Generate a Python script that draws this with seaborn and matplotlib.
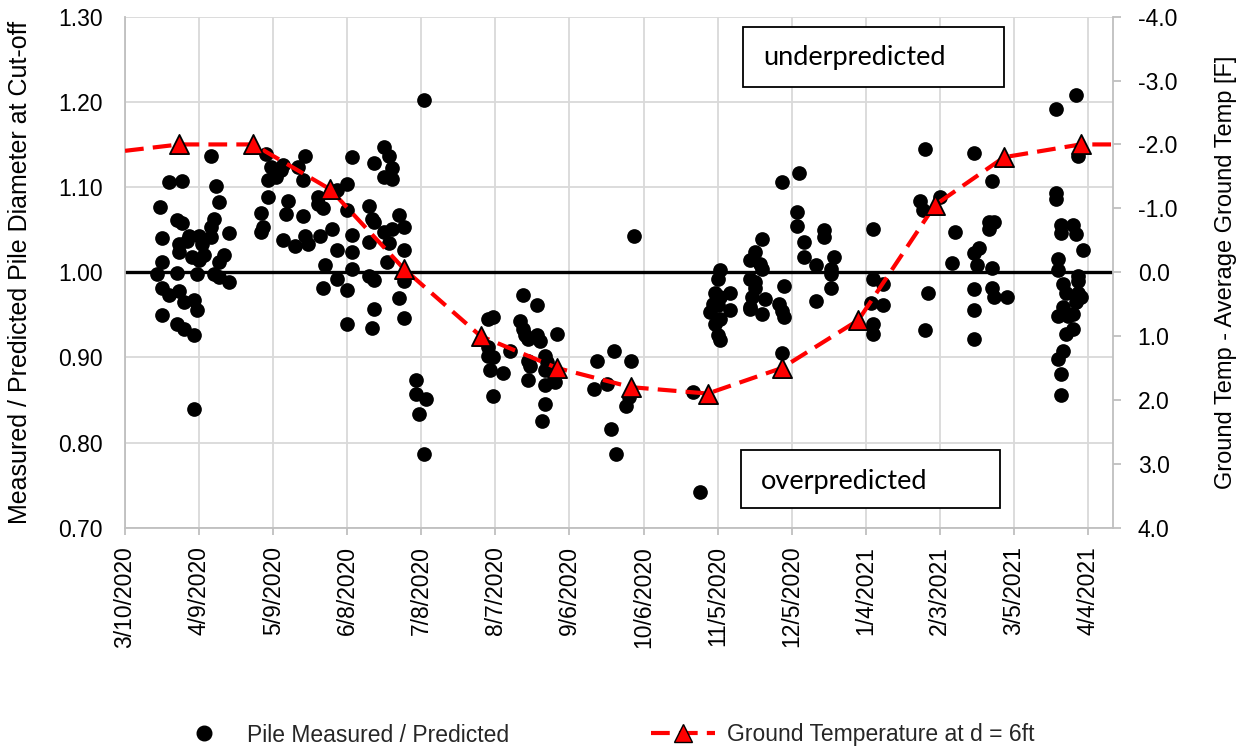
import numpy as np
import pandas as pd
import matplotlib
matplotlib.use("Agg")
import matplotlib.pyplot as plt
import matplotlib.dates as mdates
from matplotlib.lines import Line2D
from matplotlib.patches import Rectangle
import seaborn as sns

sns.set_theme(style="white")
plt.rcParams['font.family'] = ['Liberation Sans', 'DejaVu Sans']

# Axis start date; pile data are stored as days after this date
START = pd.Timestamp("2020-03-10")
END = pd.Timestamp("2021-04-14")

# Pile measured / predicted diameter ratio (day offset from START, ratio)
pile_day = [
    35, 18, 23, 37, 38, 14, 21, 23, 36, 35, 42, 15, 26, 30, 22, 31, 35, 22, 27, 30,
    40, 38, 15, 13, 21, 29, 36, 38, 42, 15, 18, 22, 24, 28, 29, 15, 21, 24, 28, 28,
    25, 32,
    57, 59, 63, 61, 58, 64, 73, 70, 72, 58, 66, 55, 65, 72, 56, 55, 64, 69, 73, 74,
    79, 84, 78, 80, 78, 86, 90, 92, 90, 92, 86, 92, 81, 86, 80, 92, 90, 90,
    121, 105, 107, 108, 105, 108, 101, 99, 100, 101, 99, 105, 108, 111, 113, 107,
    113, 106, 99, 101, 113, 111, 101, 100, 113, 118, 118, 122, 119, 121,
    147, 149, 147, 147, 149, 148, 153, 149, 156, 161, 167, 160, 161, 162, 163, 167,
    168, 175, 163, 164, 170, 171, 170, 163, 170, 174, 170, 169, 191, 198, 205, 190,
    195, 203, 204, 197, 199, 206, 230, 233,
    241, 240, 239, 241, 245, 238, 240, 237, 245, 241, 239, 240, 241, 258, 255, 253,
    257, 258, 253, 255, 255, 254, 259, 253, 253, 258, 267, 265, 266, 267, 266, 266,
    273, 272, 272, 275, 275, 280, 283, 283, 287, 286, 286, 286, 280,
    324, 322, 323, 330, 303, 336, 335, 303, 307, 302, 307, 303, 303, 325, 324,
    344, 351, 350, 352, 350, 346, 344, 345, 351, 344, 351, 352, 357, 344, 344,
    377, 385, 386, 377, 377, 379, 379, 384, 385, 388, 378, 378, 386, 386, 380, 381,
    386, 387, 385, 380, 378, 382, 384, 384, 381, 380, 378, 379, 379,
]
pile_ratio = [
    1.136, 1.106, 1.107, 1.101, 1.082, 1.076, 1.061, 1.058, 1.063, 1.053, 1.046, 1.040,
    1.043, 1.042, 1.033, 1.033, 1.041, 1.024, 1.018, 1.014, 1.020, 1.012, 1.012, 0.998,
    0.999, 0.998, 0.998, 0.994, 0.988, 0.982, 0.973, 0.978, 0.965, 0.967, 0.956, 0.950,
    0.939, 0.933, 0.926, 0.839, 1.037, 1.020,
    1.139, 1.124, 1.120, 1.112, 1.108, 1.126, 1.137, 1.123, 1.108, 1.088, 1.084, 1.069,
    1.068, 1.066, 1.053, 1.047, 1.038, 1.031, 1.043, 1.033, 1.043, 1.051, 1.080, 1.075,
    1.088, 1.097, 1.104, 1.135, 1.073, 1.044, 1.026, 1.024, 1.008, 0.992, 0.982, 1.004,
    0.979, 0.939,
    1.202, 1.147, 1.137, 1.122, 1.112, 1.110, 1.128, 1.078, 1.063, 1.059, 1.035, 1.047,
    1.051, 1.067, 1.053, 1.034, 1.026, 1.012, 0.996, 0.991, 0.990, 0.970, 0.957, 0.935,
    0.946, 0.873, 0.857, 0.851, 0.834, 0.786,
    0.945, 0.947, 0.912, 0.902, 0.900, 0.885, 0.882, 0.855, 0.908, 0.973, 0.961, 0.943,
    0.933, 0.926, 0.922, 0.926, 0.919, 0.927, 0.896, 0.890, 0.902, 0.894, 0.885, 0.873,
    0.868, 0.871, 0.845, 0.825, 0.896, 0.908, 0.896, 0.863, 0.869, 0.843, 0.853, 0.816,
    0.786, 1.042, 0.859, 0.742,
    1.002, 0.992, 0.975, 0.971, 0.975, 0.963, 0.961, 0.953, 0.956, 0.945, 0.939, 0.926,
    0.920, 1.039, 1.024, 1.014, 1.010, 1.004, 0.992, 0.988, 0.982, 0.971, 0.969, 0.959,
    0.957, 0.951, 0.984, 0.963, 0.955, 0.947, 0.905, 1.106, 1.116, 1.071, 1.054, 1.036,
    1.018, 1.009, 1.049, 1.041, 1.018, 1.004, 0.998, 0.982, 0.966,
    1.145, 1.084, 1.073, 1.088, 1.051, 1.047, 1.011, 0.992, 0.986, 0.964, 0.962, 0.939,
    0.928, 0.976, 0.932,
    1.140, 1.107, 1.059, 1.059, 1.051, 1.028, 1.022, 1.008, 1.005, 0.980, 0.982, 0.971,
    0.971, 0.956, 0.922,
    1.192, 1.208, 1.137, 1.093, 1.086, 1.056, 1.046, 1.055, 1.045, 1.026, 1.016, 1.002,
    0.996, 0.990, 0.986, 0.975, 0.975, 0.971, 0.965, 0.959, 0.949, 0.949, 0.951, 0.933,
    0.928, 0.908, 0.898, 0.880, 0.856,
]

# Ground temperature at d = 6 ft, minus average ground temperature [F]
temp_dates = ["2020-03-10", "2020-04-01", "2020-05-01", "2020-06-01", "2020-07-01",
              "2020-08-01", "2020-09-01", "2020-10-01", "2020-11-01", "2020-12-01",
              "2021-01-01", "2021-02-01", "2021-03-01", "2021-04-01", "2021-04-14"]
temp_values = [-1.9, -2.0, -2.0, -1.3, -0.05, 1.0, 1.5, 1.8, 1.9, 1.5,
               0.75, -1.05, -1.8, -2.0, -2.0]

pile = pd.DataFrame({"date": START + pd.to_timedelta(pile_day, unit="D"),
                     "ratio": pile_ratio})
temp = pd.DataFrame({"date": pd.to_datetime(temp_dates), "temp": temp_values})
temp_marks = temp.iloc[1:-1]

GRID = "#d9d9d9"
AXIS = "#bfbfbf"

fig, ax = plt.subplots(figsize=(12.38, 7.48))
fig.subplots_adjust(left=0.101, right=0.8988, bottom=0.2945, top=0.9777)

ax.grid(True, color=GRID, linewidth=1.3)
ax.set_axisbelow(True)
ax.axhline(1.0, color="black", linewidth=2.4, zorder=2)
sns.scatterplot(data=pile, x="date", y="ratio", ax=ax, color="black", s=112,
                linewidth=0, zorder=3, legend=False)

ax.set_xlim(START, END)
ax.set_ylim(0.70, 1.30)
ax.set_yticks(np.arange(0.70, 1.301, 0.10))
ax.yaxis.set_major_formatter(plt.FormatStrFormatter("%.2f"))
ax.set_xticks(pd.date_range(START, "2021-04-04", freq="30D"))
ax.xaxis.set_major_formatter(mdates.DateFormatter("%-m/%-d/%Y"))
ax.tick_params(axis="x", bottom=True, rotation=90, length=5, width=1.3, color=AXIS,
               pad=8, labelsize=16.5, labelcolor="black")
ax.tick_params(axis="y", left=False, length=0, pad=16, labelsize=16.5, labelcolor="black")
ax.set_xlabel("")
ax.set_ylabel("Measured / Predicted Pile Diameter at Cut-off", fontsize=18, color="black")
ax.yaxis.set_label_coords(-0.094, 0.5)
for s in ["top", "right"]:
    ax.spines[s].set_visible(False)
for s in ["left", "bottom"]:
    ax.spines[s].set_color(AXIS)
    ax.spines[s].set_linewidth(1.3)

# Secondary axis: temperature (inverted)
ax2 = ax.twinx()
sns.lineplot(data=temp, x="date", y="temp", ax=ax2, color="red", linewidth=3,
             legend=False, zorder=4)
ax2.lines[0].set_dashes([4.5, 2.2])
sns.scatterplot(data=temp_marks, x="date", y="temp", ax=ax2, marker="^", s=190,
                color="red", edgecolor="black", linewidth=1.3, zorder=5, legend=False)
ax2.set_ylim(4, -4)
ax2.set_yticks(np.arange(-4, 4.01, 1))
ax2.yaxis.set_major_formatter(plt.FormatStrFormatter("%.1f"))
ax2.tick_params(axis="y", right=True, length=6, width=1.3, color=AXIS, pad=12,
                labelsize=16.5, labelcolor="black")
ax2.set_ylabel("Ground Temp - Average Ground Temp [F]", fontsize=17, color="black")
ax2.yaxis.set_label_coords(1.1036, 0.5)
ax2.set_xlabel("")
ax2.set_xlim(START, END)
for s in ["top", "left", "bottom"]:
    ax2.spines[s].set_visible(False)
ax2.spines["right"].set_color(AXIS)
ax2.spines["right"].set_linewidth(1.3)
ax2.grid(False)

# Annotation boxes
W, H = 1238, 748
for (x0, y0, x1, y1, tx, ty, label) in [
    (743, 27, 1004, 87, 763, 57, "underpredicted"),
    (741, 450, 1000, 508, 761, 482, "overpredicted"),
]:
    fig.add_artist(Rectangle((x0 / W, 1 - y1 / H), (x1 - x0) / W, (y1 - y0) / H,
                             transform=fig.transFigure, facecolor="white",
                             edgecolor="black", linewidth=1.3))
    fig.text(tx / W, 1 - ty / H, label, fontsize=19.5, family=["Lato", "DejaVu Sans"],
             ha="left", va="center", color="black")

handles = [
    Line2D([], [], marker="o", color="black", linestyle="None", markersize=10.5),
    Line2D([], [], color="red", linewidth=3, dashes=(4.5, 2.2), marker="^",
           markerfacecolor="red", markeredgecolor="black", markersize=13),
]
fig.legend(handles, ["Pile Measured / Predicted", "Ground Temperature at d = 6ft"],
           loc="center", bbox_to_anchor=(0.487, 1 - 735 / H), ncol=2, frameon=False,
           fontsize=16.5, columnspacing=6.2, handlelength=2.8, handletextpad=0.5)

fig.savefig("out.png", dpi=100)
